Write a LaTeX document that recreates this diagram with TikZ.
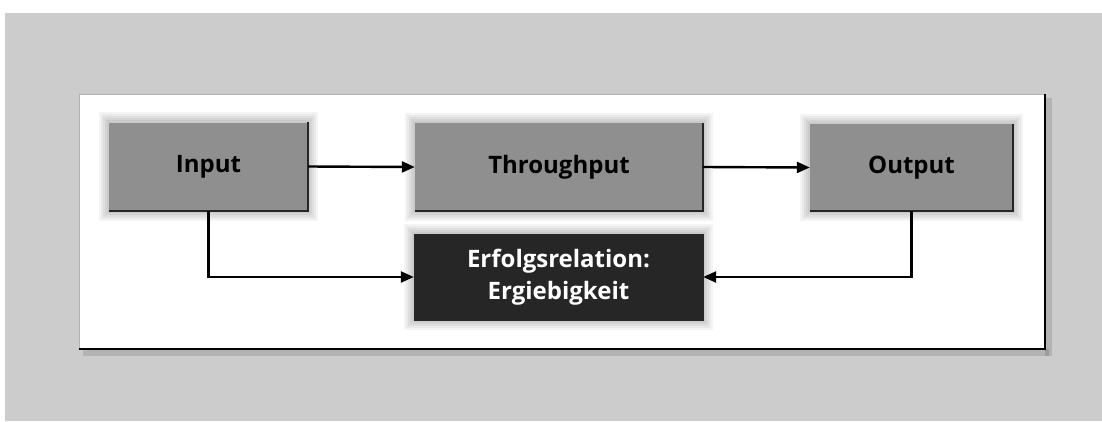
\documentclass[tikz,border=0pt]{standalone}
\usepackage{fontspec}
\setmainfont{Open Sans}
\usetikzlibrary{arrows.meta,backgrounds}

\definecolor{paper}{gray}{0.80}
\definecolor{boxgray}{gray}{0.56}
\definecolor{boxdark}{gray}{0.15}

\tikzset{
  stage/.style={rectangle, fill=boxgray, inner sep=0pt,
    font=\fontsize{24}{28}\selectfont\bfseries, text=black},
  result/.style={rectangle, fill=boxdark, inner sep=0pt, align=center,
    font=\fontsize{24}{32}\selectfont\bfseries, text=white},
  rim/.style={draw=black!85, line width=2pt},
  flow/.style={draw=black, line width=2.4pt,
    -{Triangle[length=13pt,width=11pt]}},
  halo/.style={fill=black, opacity=0.045}
}

\begin{document}
\begin{tikzpicture}[x=1pt,y=-1pt]
\useasboundingbox (0,0) rectangle (1102,421);

% process stages
\node[stage, minimum width=199pt, minimum height=88pt] (in)  at (208.5,166.5) {Input};
\node[stage, minimum width=288pt, minimum height=88pt] (thr) at (559,167)    {Throughput};
\node[stage, minimum width=203pt, minimum height=87pt] (out) at (911.5,167.5) {Output};
\node[result, minimum width=289pt, minimum height=86pt] (erf) at (558.5,277)
  {Erfolgsrelation:\\Ergiebigkeit};

\begin{scope}[on background layer]
  % screened backdrop and framed panel
  \fill[paper] (5,13) rectangle (1102,421);
  \fill[black, opacity=0.12] (83,349) rectangle (1049,356);
  \fill[black, opacity=0.12] (1045,98) rectangle (1052,356);
  \fill[white] (79,94) rectangle (1045,349);
  \draw[black!30, line width=0.8pt] (79,349) -- (79,94) -- (1045,94);
  \draw[black, line width=1.4pt] (79,349) -- (1045,349) -- (1045,94);
  % soft halos behind the boxes
  \foreach \n in {in,thr,out,erf}{
    \foreach \d in {2,4,6,8,10}{
      \fill[halo] ([shift={(-\d,-\d)}]\n.north west) rectangle ([shift={(\d,\d)}]\n.south east);
    }
  }
\end{scope}

% dark lower and right edges of the boxes
\foreach \n in {in,thr,out,erf}{
  \draw[rim] (\n.south west) -- (\n.south east) -- (\n.north east);
}

% connectors
\draw[flow] (in.east) -- (thr.west);
\draw[flow] (thr.east) -- (out.west);
\draw[flow] (in.south) |- (erf.west);
\draw[flow] (out.south) |- (erf.east);
\end{tikzpicture}
\end{document}
